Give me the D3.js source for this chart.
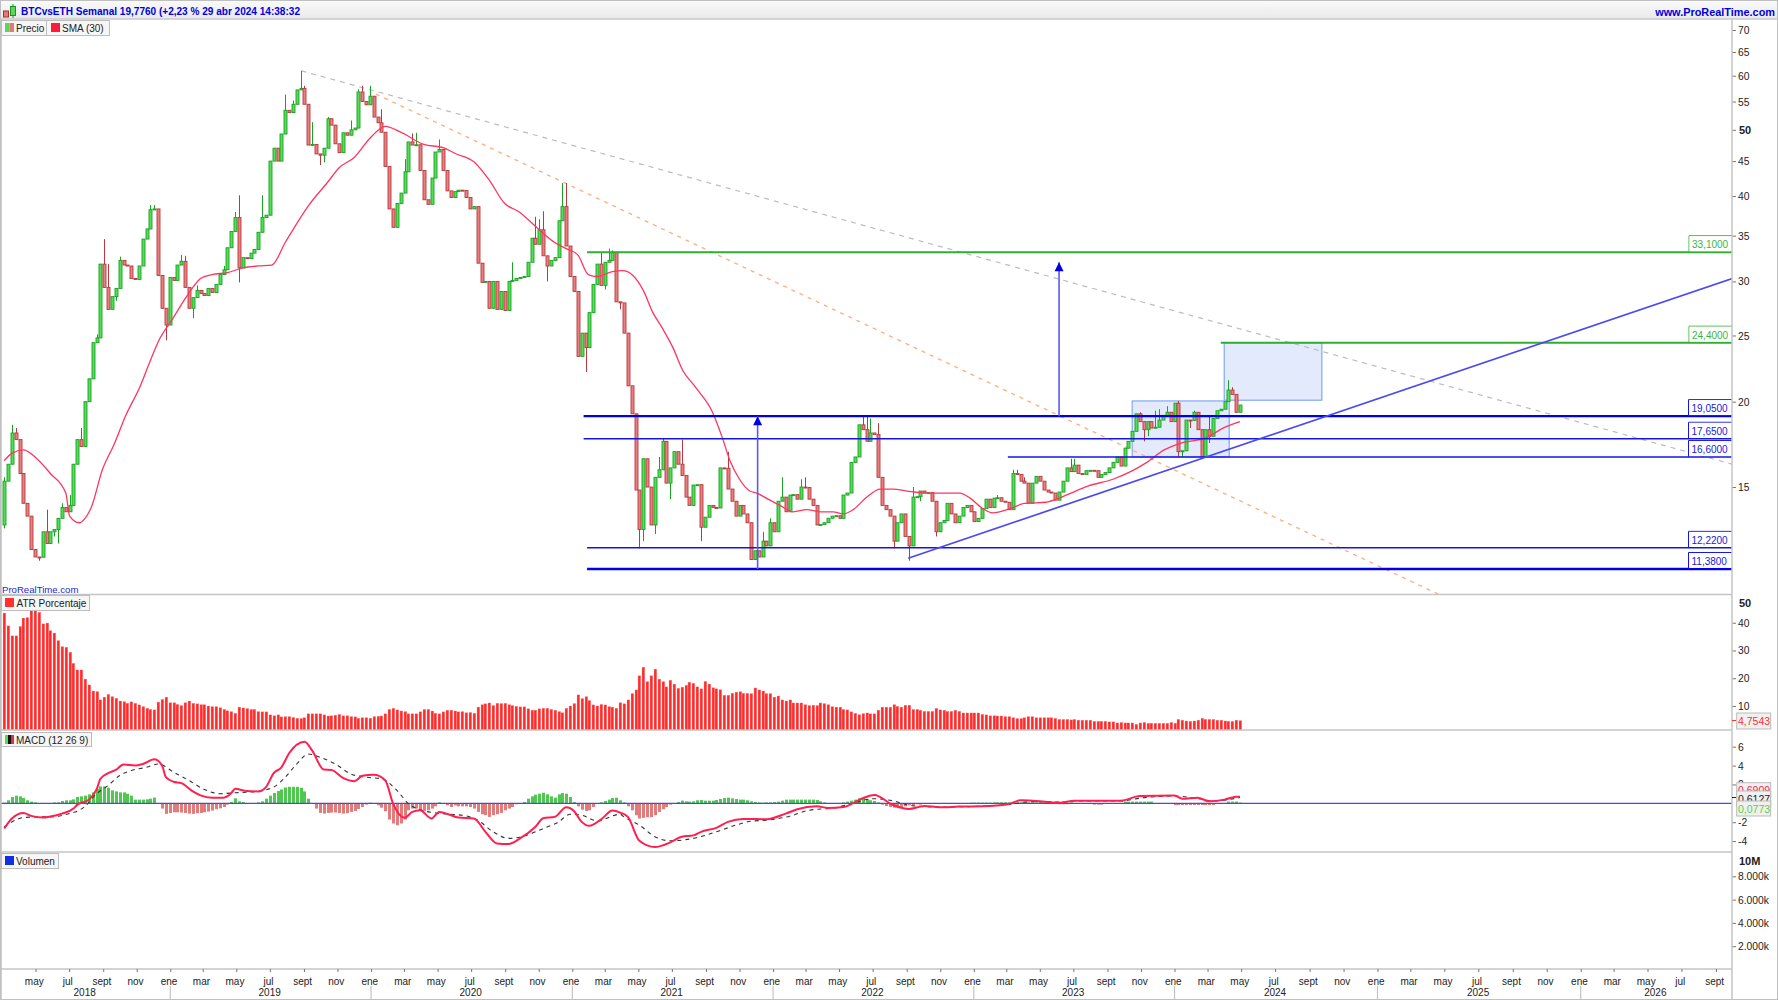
<!DOCTYPE html>
<html><head><meta charset="utf-8">
<style>
html,body{margin:0;padding:0;background:#fff;overflow:hidden}
svg{display:block}
text{font-family:"Liberation Sans",Arial,sans-serif;font-size:10px;fill:#222}
.ax path{stroke:#c0c0c0;stroke-width:1.5}
.ax line{stroke:#777}
</style>
<script src="https://cdn.jsdelivr.net/npm/d3@7/dist/d3.min.js"></script>
</head><body><svg id="c" width="1778" height="1000"></svg>
<script>
// ---- DATA ----
const titleText = "BTCvsETH Semanal 19,7760 (+2,23 % 29 abr 2024 14:38:32";
const firstOpen = 13.2;
const closes = [
15.3,16.2,18.0,17.6,15.7,14.2,13.6,12.15,11.85,11.84,
12.9,12.4,12.9,13.0,13.5,14.0,13.8,14.1,16.2,17.6,
17.2,20.0,21.6,24.4,24.8,31.8,29.4,27.3,28.5,29.3,
32.2,31.7,31.6,30.3,30.2,31.6,34.6,35.8,38.2,38.3,
30.6,27.4,25.9,30.4,30.1,31.7,32.1,29.4,27.4,28.4,
29.1,28.8,28.6,29.3,28.9,29.7,30.7,31.2,33.6,35.5,
37.2,31.4,32.5,32.4,33.0,33.4,35.4,37.2,37.5,45.0,
47.0,45.0,49.3,53.4,53.0,54.5,57.2,57.5,54.5,47.5,
47.6,46.1,45.9,47.0,51.9,50.8,47.7,46.3,49.5,49.1,
50.0,50.3,56.8,55.0,54.4,56.0,52.2,51.2,49.6,44.2,
38.3,36.0,39.0,40.4,43.4,48.0,47.5,47.55,43.6,39.5,
38.9,42.5,46.4,46.8,43.6,40.7,39.8,40.6,40.8,40.75,
39.8,38.3,38.6,31.9,29.9,30.0,27.4,30.0,27.3,29.0,
27.2,30.0,30.1,30.3,30.4,30.5,32.0,34.7,34.0,35.7,
32.7,31.6,32.2,32.5,36.8,38.6,33.8,30.5,29.0,23.3,
25.2,24.0,27.0,29.7,31.8,29.6,32.0,32.2,33.1,28.0,
27.9,25.2,21.1,19.2,14.85,13.0,16.5,15.0,13.2,15.5,
15.9,17.5,15.2,16.0,16.9,16.2,15.6,14.5,14.1,15.1,
15.12,13.1,13.55,14.1,14.0,13.98,16.0,15.98,14.9,14.3,
13.6,14.1,13.7,13.3,11.75,12.1,11.85,12.5,12.3,13.3,
12.9,14.3,14.5,13.8,14.6,14.62,14.4,15.0,14.98,14.4,
14.1,13.2,13.22,13.3,13.5,13.6,13.62,13.5,14.6,14.7,
16.3,16.6,18.5,18.2,17.5,18.0,17.9,15.5,14.1,13.9,
13.6,12.5,13.3,13.7,12.7,12.3,14.5,14.52,14.8,14.7,
14.72,14.3,12.9,13.3,13.4,14.2,13.7,13.3,13.6,14.0,
14.1,13.8,13.35,13.5,13.95,14.4,14.0,14.45,14.47,14.3,
14.25,13.9,15.7,15.65,15.3,15.2,14.2,15.2,15.55,15.3,
14.85,14.75,14.7,14.35,14.75,15.3,16.0,15.8,16.15,15.7,
15.65,15.85,15.87,15.85,15.5,15.65,15.75,16.0,16.3,16.6,
16.1,17.1,17.5,18.1,19.2,18.7,18.2,18.7,18.3,18.35,
18.8,19.1,19.3,18.7,19.9,16.9,16.95,18.8,18.78,19.3,
18.2,16.6,18.2,17.8,18.9,19.4,19.5,20.0,20.8,20.5,
19.3,19.776];
const highWicks = [[0,15.5],[2,18.5],[3,18.3],[11,13.9],[15,14.2],[17,14.6],[20,18.3],[24,25.1],[26,34.6],[27,31.8],[30,32.6],[38,38.8],[39,38.8],[46,32.8],[47,32.7],[50,29.6],[57,31.6],[60,37.9],[61,40.1],[67,40.1],[73,56.3],[75,55.2],[77,61],[78,58],[80,51.3],[84,52.2],[90,51.6],[92,57.3],[93,58],[95,58],[97,52],[98,53.6],[104,45.3],[106,49.4],[107,49.5],[113,48.4],[132,32],[138,37.3],[139,37],[140,38],[145,41.8],[146,41.8],[155,33],[157,33.5],[158,33.3],[162,21.8],[170,16.6],[171,17.7],[175,16.9],[176,17.6],[188,16.9],[197,12.9],[199,13.5],[202,15.5],[207,15.4],[208,15.5],[223,19.05],[224,19.05],[225,18.9],[227,18.6],[236,15],[258,14.6],[262,15.9],[263,15.9],[265,15.5],[277,16.5],[278,16.5],[295,19.3],[299,19.4],[300,19.5],[302,19.7],[305,20.05],[309,19.4],[313,19.1],[318,21.5],[319,21]];
const lowWicks = [[0,13.05],[9,11.7],[13,12.7],[14,12.4],[29,28.1],[42,24.6],[49,26.5],[61,29.9],[82,44.4],[83,44.8],[141,30],[151,22.1],[152,26.6],[156,29.2],[160,27.3],[165,12.2],[166,12.5],[169,12.8],[173,14.4],[181,12.5],[199,12.8],[204,14.0],[231,12.2],[235,11.7],[238,14.3],[242,12.7],[296,17.5],[297,17.8],[305,16.6],[306,16.6],[308,18.3],[313,17.4]];
const smaWeeks = [0,2,5,8,12,16,17,19.5,21,22.6,25.5,28.5,31.6,35.2,38,40.2,43.5,47,49,51,54,58,62,66,69.5,73,79,84,87,91,95,99,103,109,114,117,122,126,130,133.5,139,143,146,149,151.7,154,158,160.7,163.3,166,168.5,171,173.7,176.3,179,180.7,183.8,186.7,188.5,191,193.7,195.5,198.4,201.5,204.9,208.5,211.9,215.3,217.9,220.5,224.1,227.5,230.9,234.5,239.7,248.3,250.9,254.2,256.8,261.3,265.1,270.6,274,277.1,281.5,288,296.8,301.3,305.7,312.2,316.6,321];
const smaValues = [16.4,16.8,17.0,16.6,15.7,14.7,13.6,13.3,13.5,14.0,15.9,17.3,19.1,21,23,24.6,26.3,28.3,29.4,30.3,30.7,30.9,31.4,31.6,31.7,34.2,38.7,41.9,44,45.6,48.6,50.6,49.6,47.6,47.1,46.2,44.9,42.2,39,38,35.7,34.2,33.5,32.8,30.7,30.5,31,31.1,30.6,29.1,27,25.6,24,22.2,21.2,20.6,19.4,17.6,16.4,15.4,14.8,14.7,14.4,14.1,13.8,13.9,13.8,13.8,13.7,13.9,14.5,14.9,14.9,14.8,14.7,14.7,14.45,13.95,13.75,13.95,14.2,14.25,14.45,14.7,15.05,15.4,16.3,17,17.4,17.7,18.3,18.7];
const atrValues = [
43.5,38.9,35.3,35.3,38.7,41.7,41.9,44.3,44.3,43.8,39.6,39.9,37.2,36.3,33.6,31.4,31.2,29.4,25.4,23.0,
23.0,19.7,17.6,15.4,15.2,12.2,13.2,14.2,13.4,12.8,11.8,11.6,11.0,11.5,11.0,10.4,9.8,9.2,8.8,8.6,
11.4,12.4,13.2,11.2,11.2,10.6,10.2,11.2,11.8,11.0,10.8,10.5,10.5,10.0,9.8,9.8,9.4,8.8,8.3,8.0,
7.4,9.6,9.3,9.1,8.8,8.8,8.0,7.9,7.9,6.8,6.5,6.8,6.1,6.2,6.2,5.9,5.6,5.5,5.8,7.2,
7.2,7.2,7.2,6.8,6.4,6.5,6.7,7.0,6.5,6.5,6.2,6.1,5.6,5.8,5.8,5.6,6.2,6.3,6.4,7.2,
8.8,9.2,8.6,8.2,8.0,7.2,7.2,7.2,7.9,8.8,8.8,8.2,7.4,7.2,7.9,8.5,8.5,8.2,7.9,8.0,
7.6,7.7,7.4,9.6,10.5,10.8,11.1,10.2,11.0,10.9,11.0,10.5,10.2,9.9,9.7,9.7,9.0,8.5,8.5,9.0,
9.2,9.2,8.8,8.5,8.0,7.6,9.2,10.0,10.9,14.0,12.7,13.4,12.0,10.4,10.0,10.6,10.4,
9.8,9.6,9.2,11.2,10.8,12.2,14.5,15.8,20.9,24.0,
18.8,20.9,23.3,19.7,18.8,16.9,19.3,17.9,16.4,16.8,
17.5,18.6,18.2,16.9,16.2,18.9,17.9,16.6,16.2,15.9,
13.9,13.9,14.6,15.0,15.2,14.6,14.6,14.5,16.5,15.8,
15.4,14.5,14.5,13.2,13.6,12.2,11.8,12.2,11.1,11.1,
11.1,10.5,10.2,10.3,10.2,11.1,10.9,10.5,9.8,9.6,
9.6,8.8,8.6,7.9,7.4,6.9,7.3,7.5,7.2,7.2,
8.5,9.6,9.6,9.6,10.5,9.9,9.6,10.3,10.3,8.8,
8.8,8.5,8.1,8.1,8.1,9.2,8.6,8.5,8.1,8.1,
8.5,8.1,7.5,7.5,7.5,7.5,7.5,7.0,6.8,6.5,
6.5,6.4,6.4,6.2,6.2,5.8,5.5,5.5,5.8,6.2,
6.2,5.8,5.8,5.8,5.8,5.8,5.6,5.2,5.2,5.2,
5.0,5.2,4.9,4.9,4.9,4.9,4.5,4.5,4.5,4.5,
4.3,4.3,3.9,4.1,3.9,3.9,3.9,3.4,3.9,4.1,
3.8,3.8,3.8,3.8,3.8,3.8,4.1,3.8,5.2,4.9,
4.6,4.5,4.6,4.9,5.6,5.2,5.2,5.2,4.9,4.9,
4.6,4.5,4.5,4.9,4.7543];
const macdWeeks = [0,2,5,7,10,12,15,18,19,22,24,25,27,29,31,34,36,39,41,42,44,46,49,51,54,57,59,60,63,66,68,70,72,74,78,80,83,85,88,91,93,96,99,101,104,106,108,111,113,118,122,125,128,131,134,138,140,143,146,148,150,152,155,158,160,162,165,169,173,176,179,181,185,188,192,198,203,206,211,214,218,223,226,231,235,239,243,248,254,261,264,268,274,278,290,295,304,306,310,313,317,320,321];
const macdValues = [-2.67,-1.6,-1.02,-1.33,-1.51,-1.4,-1.09,-.56,-.14,.38,1.47,2.6,3.19,3.54,4.1,4.0,4.17,4.67,4,2.77,2.28,2.14,1.26,.84,.6,.6,1.09,1.54,1.3,1.26,1.72,3.19,3.82,5.3,6.53,5.58,3.58,3.54,2.7,2.35,2.91,3.02,2.42,-.04,-1.54,-.91,-.74,-1.61,-.91,-1.51,-1.61,-3.02,-4.25,-4.32,-3.72,-2.49,-1.58,-1.44,-.42,-.81,-1.97,-2.39,-1.72,-.77,-.98,-1.44,-3.97,-4.63,-4.14,-3.54,-3.4,-3.02,-2.6,-1.97,-1.65,-1.69,-1.09,-.63,-.32,-.49,-.39,.53,.88,-.21,-.6,-.28,-.42,-.35,-.32,-.07,.32,.25,.07,.28,.28,.77,.84,.49,.6,.21,.39,.7,.6909];
const signalWeeks = [0,2,5,9,12,16,21,24,27,30,33,37,40,44,48,52,56,60,65,70,73,76,79,82,86,90,94,98,102,105,108,112,116,120,123,127,131,135,140,144,147,150,154,160,161,165,169,173,179,185,190,194,198,204,209,216,220,226,231,235,242,253,261,267,275,278,290,296,304,310,314,321];
const signalValues = [-2.49,-1.97,-1.51,-1.44,-1.44,-1.19,-.32,1.02,1.89,2.95,3.47,3.82,4.17,3.3,2.42,1.47,1.02,1.12,1.23,1.72,2.77,4.17,5.23,4.88,4.17,3.12,2.77,2.6,1.37,-.04,-.67,-1.02,-1.16,-1.33,-1.79,-3.02,-3.72,-3.47,-2.67,-1.97,-1.16,-1.26,-1.86,-1.16,-1.44,-2.32,-3.54,-3.97,-3.72,-3.02,-2.32,-1.9,-1.79,-1.37,-.74,-.46,-.04,.49,.25,-.21,-.39,-.32,-.11,.18,.14,.25,.25,.6,.77,.49,.25,.6127];
const histValues = [
.07,.32,.67,.81,.74,.56,.32,.18,.1,0,0,0,0,.1,.1,.25,.32,.32,.42,.67,
.74,.81,.95,1.16,1.54,1.79,1.79,1.65,1.37,1.26,1.16,1.16,1.02,.81,.39,.39,.39,.42,.49,.6,
-.05,-.56,-1.12,-1.02,-.95,-.95,-.98,-1.02,-1.09,-1.12,-1.05,-1.02,-.95,-.88,-.77,-.63,-.53,-.39,-.14,.14,
.53,.21,.14,0,0,0,.1,.21,.49,.81,1.09,1.3,1.47,1.68,1.75,1.75,1.75,1.65,1.26,.49,
-.03,-.56,-1.02,-1.09,-1.02,-.98,-.98,-1.02,-1.09,-1.05,-.91,-.81,-.6,-.39,-.14,.07,-.03,-.21,-.46,-.84,
-1.72,-2.14,-2.32,-2.14,-1.72,-.74,-.56,-.56,-.74,-.81,-.74,-.56,-.32,.1,0,-.21,-.39,-.21,-.32,-.32,
-.32,-.39,-.56,-.91,-1.16,-1.26,-1.44,-1.26,-1.16,-1.02,-.74,-.56,-.39,-.1,-.03,.14,.49,.74,.91,1.02,
1.12,.95,.74,.6,.95,1.09,1.02,.67,.14,-.32,-.67,-.81,-.74,-.39,-.03,.1,.25,.39,.56,.6,
.32,.1,-.32,-.74,-1.26,-1.61,-1.54,-1.47,-1.47,-1.26,-.91,-.63,-.39,-.14,.03,.14,.28,.21,.18,.21,
.32,.35,.28,.28,.28,.35,.46,.56,.6,.53,.46,.39,.39,.32,.21,.14,.1,.07,.1,.1,
.14,.18,.28,.39,.39,.39,.39,.39,.39,.39,.39,.35,.21,.1,.03,0,0,0,.1,.18,
.28,.39,.53,.56,.42,.32,.25,.1,-.14,-.28,-.39,-.46,-.42,-.39,-.32,-.21,-.18,-.1,-.14,-.07,
-.07,-.07,-.07,-.07,-.07,-.07,-.07,-.07,-.07,-.07,-.07,.07,.07,.07,.07,.07,.07,.1,.1,.1,
.1,.1,.1,-.03,.1,.1,.1,.1,.1,.1,.1,0,0,0,-.1,-.1,-.1,.1,0,0,
0,0,0,-.14,-.14,-.14,0,0,0,0,0,.18,.18,.18,.18,.18,.18,.18,.18,0,
0,0,0,0,-.18,-.18,-.18,-.18,-.18,-.18,-.18,-.18,-.18,-.18,-.18,0,0,0,.18,.18,
.18,.0773];
const yearLabels = [2018,2019,2020,2021,2022,2023,2024,2025,2026];
const monthNames = {0:"ene",2:"mar",4:"may",6:"jul",8:"sept",10:"nov"};
const priceTicks = [15,20,25,30,35,40,45,50,55,60,65,70];
const atrTicks = [10,20,30,40,50];
const macdTicks = [-4,-2,2,4,6];
const volTicks = [2000,4000,6000,8000,10000];
// drawn objects: level lines [value, first week, colour, width]
const levels = [[33.1,151.4,"#2fae2f",2],[24.4,316,"#2fae2f",2],[19.05,150.5,"#0000e8",2.4],[17.65,150.5,"#1414e8",1.5],[16.6,260.7,"#1414e8",1.5],[12.22,151.4,"#1414e8",1.5],[11.38,151.4,"#0000e8",2.4]];
const levelLabels = [["33,1000",33.1,"#3cb43c"],["24,4000",24.4,"#3cb43c"],["19,0500",19.05,"#2020e0"],["17,6500",17.65,"#2020e0"],["16,6000",16.6,"#2020e0"],["12,2200",12.22,"#2020e0"],["11,3800",11.38,"#2020e0"]];
const arrows = [[195.7,11.38,19.05],[274,19.05,32]];
const boxes = [[293,318.2,20.05,16.6],[316.9,342,24.4,20.1]];
const trendLine = [[234.8,11.8],[447.3,30.3]];
const grayDash = [[77.2,61],[447.3,16.2]];
const orangeDash = [[96.6,56.4],[371.8,10.46]];

// ---- LAYOUT ----
const W=1778,H=1000,L=1,R=1732;
const svg=d3.select("#c");
const WEEK=7*864e5, d0=Date.UTC(2018,2,5), dEnd=d0+321*WEEK, dFuture=Date.UTC(2026,8,1);
const tx=d3.scaleUtc().domain([new Date(d0),new Date(dEnd),new Date(dFuture)]).range([4.2,1240,1716]);
const xw=w=>tx(new Date(d0+w*WEEK));
const yP=d3.scaleLog().domain([10.46,72.4]).range([594,20]);
const yA=d3.scaleLinear().domain([0,50]).range([733.7,595]);
const yM=d3.scaleLinear().domain([-5.16,7.07]).range([852,736.6]);
const yV=d3.scaleLinear().domain([0,10000]).range([969.5,853]);

const defs=svg.append("defs");
const grad=defs.append("linearGradient").attr("id","tb").attr("x2",0).attr("y2",1);
grad.append("stop").attr("offset",0).attr("stop-color","#fbfbfb");
grad.append("stop").attr("offset",1).attr("stop-color","#e9e9e9");
defs.append("clipPath").attr("id","cp").append("rect").attr("x",L).attr("y",20).attr("width",R-L).attr("height",574);

svg.append("rect").attr("width",W).attr("height",H).attr("fill","#fff");
svg.append("rect").attr("x",0).attr("y",0).attr("width",W).attr("height",19).attr("fill","url(#tb)");

// drawings under candles
const gP=svg.append("g").attr("clip-path","url(#cp)");
boxes.forEach(b=>{gP.append("rect").attr("x",xw(b[0])).attr("width",xw(b[1])-xw(b[0])).attr("y",yP(b[2])).attr("height",yP(b[3])-yP(b[2])).attr("fill","#dbe5fa").attr("fill-opacity",.8).attr("stroke","#80a8f4").attr("stroke-width",1.2);});
const seg=(s,c,w,dash)=>gP.append("line").attr("x1",xw(s[0][0])).attr("y1",yP(s[0][1])).attr("x2",xw(s[1][0])).attr("y2",yP(s[1][1])).attr("stroke",c).attr("stroke-width",w).attr("stroke-dasharray",dash||null);
seg(grayDash,"#bcbcbc",1.2,"5 5");
seg(orangeDash,"#ffb080",1.4,"4 5");

// candles
const candles=closes.map((c,i)=>({i,c,o:i?closes[i-1]:firstOpen,h:Math.max(c,i?closes[i-1]:firstOpen),l:Math.min(c,i?closes[i-1]:firstOpen)}));
highWicks.forEach(([i,v])=>{candles[i].h=Math.max(candles[i].h,v)});
lowWicks.forEach(([i,v])=>{candles[i].l=Math.min(candles[i].l,v)});
const gC=gP.append("g");
const up=d=>d.c>=d.o;
const cx=d=>Math.round(xw(d.i))+.5;
gC.selectAll("line").data(candles).join("line")
 .attr("x1",cx).attr("x2",cx).attr("y1",d=>yP(d.h)).attr("y2",d=>yP(d.l))
 .attr("stroke",d=>up(d)?"#18a324":"#b83a3e").attr("stroke-width",1);
gC.selectAll("rect").data(candles).join("rect")
 .attr("x",d=>cx(d)-1.5).attr("width",3)
 .attr("y",d=>yP(Math.max(d.o,d.c))).attr("height",d=>Math.max(1,yP(Math.min(d.o,d.c))-yP(Math.max(d.o,d.c))))
 .attr("fill",d=>up(d)?"#55dd55":"#e88080").attr("stroke",d=>up(d)?"#18a324":"#b83a3e").attr("stroke-width",.9);

// SMA
gP.append("path").datum(smaWeeks.map((w,i)=>[w,smaValues[i]]))
 .attr("d",d3.line().x(d=>xw(d[0])).y(d=>yP(d[1])).curve(d3.curveMonotoneX))
 .attr("fill","none").attr("stroke","#ff3560").attr("stroke-width",1.3);

// levels, trend, arrows
levels.forEach(l=>{gP.append("line").attr("x1",xw(l[1])).attr("x2",R).attr("y1",yP(l[0])).attr("y2",yP(l[0])).attr("stroke",l[2]).attr("stroke-width",l[3]);});
seg(trendLine,"#4a4af0",1.7);
arrows.forEach(a=>{
 const x=xw(a[0]),y0=yP(a[1]),y1=yP(a[2]);
 gP.append("line").attr("x1",x).attr("x2",x).attr("y1",y0).attr("y2",y1).attr("stroke","#5a5af5").attr("stroke-width",1.6);
 gP.append("path").attr("d",d3.line()([[x,y1],[x-4.5,y1+9],[x+4.5,y1+9]])).attr("fill","#0000e8");
});

// level labels
levelLabels.forEach(l=>{
 const y=yP(l[1]),isG=l[2]==="#3cb43c",x0=isG?1689:1688.5;
 svg.append("path").attr("d",`M${R},${y-16.5}H${x0}V${y}`).attr("fill","none").attr("stroke",isG?"#3cb43c":"#1414e8").attr("stroke-width",1);
 svg.append("rect").attr("x",x0+.5).attr("y",y-16).attr("width",R-x0-1).attr("height",15).attr("fill","#fff").attr("fill-opacity",.85);
 svg.append("text").attr("x",x0+3).attr("y",y-4).attr("fill",l[2]).style("fill",l[2]).text(l[0]);
});

// ATR bars
svg.append("g").selectAll("rect").data(atrValues).join("rect")
 .attr("x",(d,i)=>Math.round(xw(i))-1).attr("width",2.8)
 .attr("y",d=>yA(d)).attr("height",d=>730-yA(d)).attr("fill","#ff2a2a").attr("stroke","#ffb0b0").attr("stroke-width",.3);

// MACD
const gM=svg.append("g");
gM.selectAll("rect").data(histValues).join("rect")
 .attr("x",(d,i)=>Math.round(xw(i))-1).attr("width",3)
 .attr("y",d=>yM(Math.max(d,0))).attr("height",d=>Math.abs(yM(d)-yM(0)))
 .attr("fill",d=>d>=0?"#50c850":"#e07c7c");
gM.append("line").attr("x1",L).attr("x2",R).attr("y1",yM(0)).attr("y2",yM(0)).attr("stroke","#4a4ad8").attr("stroke-width",1.2);
const ln=d3.line().x(d=>xw(d[0])).y(d=>yM(d[1])).curve(d3.curveMonotoneX);
gM.append("path").datum(signalWeeks.map((w,i)=>[w,signalValues[i]])).attr("d",ln).attr("fill","none").attr("stroke","#333").attr("stroke-width",1.1).attr("stroke-dasharray","4 4");
gM.append("path").datum(macdWeeks.map((w,i)=>[w,macdValues[i]])).attr("d",ln).attr("fill","none").attr("stroke","#ff2050").attr("stroke-width",2);

// axes
const axisR=(scale,vals,fmt,bold,topTick)=>{
 const g=svg.append("g").attr("class","ax").attr("transform",`translate(${R},0)`)
  .call(d3.axisRight(scale).tickValues(vals).tickFormat(fmt).tickSize(4).tickPadding(2));
 g.select(".domain").remove();
 g.selectAll("text").style("font-size",d=>d===bold?"11px":"10.3px").style("font-family",'"Liberation Sans",Arial,sans-serif').style("fill","#222").style("font-weight",d=>d===bold?"bold":"normal").attr("dy","0.34em").attr("dx",d=>d===bold?1:0);
 if(topTick!==undefined){
  const t=g.selectAll(".tick").filter(d=>d===topTick);
  t.select("line").remove();
  t.select("text").attr("transform","translate(0,8)");
 }
};
axisR(yP,priceTicks,d=>d,50);
axisR(yA,atrTicks,d=>d,50,50);
axisR(yM,macdTicks,d=>d,null);
axisR(yV,volTicks,d=>d===10000?"10M":(d/1000)+".000k",10000,10000);

// separators and borders
const sep=y=>svg.append("line").attr("x1",0).attr("x2",R).attr("y1",y).attr("y2",y).attr("stroke","#c4c4c4").attr("stroke-width",1.5);
[594.5,730,852,969].forEach(sep);
svg.append("line").attr("x1",R).attr("x2",R).attr("y1",19).attr("y2",999).attr("stroke","#c4c4c4").attr("stroke-width",1.5);
svg.append("rect").attr("x",.5).attr("y",.5).attr("width",W-1).attr("height",H-1).attr("fill","none").attr("stroke","#c0c0c0");
svg.append("line").attr("x1",0).attr("x2",W).attr("y1",19).attr("y2",19).attr("stroke","#c8c8c8").attr("stroke-width",1.5);
svg.append("line").attr("x1",1).attr("x2",1).attr("y1",19).attr("y2",999).attr("stroke","#c0c0c0").attr("stroke-width",1.5);

// time axis
const monthDates=[];
for(let y=2018;y<=2026;y++)for(const m of [0,2,4,6,8,10]){
 const d=new Date(Date.UTC(y,m,1));
 if(d>=new Date(Date.UTC(2018,4,1))&&tx(d)<R-3)monthDates.push(d);
}
const gx=svg.append("g").attr("class","ax").attr("transform","translate(0,969)")
 .call(d3.axisBottom(tx).tickValues(monthDates).tickFormat(d=>monthNames[d.getUTCMonth()]).tickSize(3).tickPadding(6));
gx.select(".domain").remove();
gx.selectAll("text").attr("dx",-1.8).style("font-size","10px").style("font-family",'"Liberation Sans",Arial,sans-serif').style("fill","#222");
yearLabels.forEach(y=>{
 const a=Math.max(L,tx(new Date(Date.UTC(y,0,1)))),b=Math.min(R,tx(new Date(Date.UTC(y+1,0,1))));
 if(y>2018)svg.append("line").attr("x1",a).attr("x2",a).attr("y1",986).attr("y2",999).attr("stroke","#c4c4c4").attr("stroke-width",1.2);
 svg.append("text").attr("x",(a+b)/2-1).attr("y",996).attr("text-anchor","middle").text(y);
});

// title
svg.append("text").attr("x",21).attr("y",15).style("font-weight","bold").style("font-size","10.05px").style("fill","#0000dc").text(titleText);
svg.append("text").attr("x",1775).attr("y",16).attr("text-anchor","end").style("font-weight","bold").style("font-size","10.9px").style("fill","#0000dc").text("www.ProRealTime.com");
svg.append("rect").attr("x",3.5).attr("y",11).attr("width",5).attr("height",6).attr("fill","#e67878").attr("stroke","#b22a2e");
svg.append("line").attr("x1",13).attr("x2",13).attr("y1",4).attr("y2",18).attr("stroke","#129a1e");
svg.append("rect").attr("x",10.5).attr("y",6.5).attr("width",5).attr("height",9).attr("fill","#5ad65a").attr("stroke","#129a1e");

// legends
const legBox=(x,y,w,h,tx0,label,fn)=>{
 svg.append("rect").attr("x",x+.5).attr("y",y+.5).attr("width",w).attr("height",h).attr("fill","#f6f6f6").attr("stroke","#bdbdbd");
 fn(); svg.append("text").attr("x",tx0).attr("y",y+11.5).text(label);
};
legBox(1,20,45,15,16,"Precio",()=>{
 svg.append("rect").attr("x",5).attr("y",23).attr("width",4.5).attr("height",9).attr("fill","#5ad65a");
 svg.append("rect").attr("x",9.5).attr("y",23).attr("width",4.5).attr("height",9).attr("fill","#e67878");
});
legBox(46,20,63,15,62,"SMA (30)",()=>{svg.append("rect").attr("x",51).attr("y",23).attr("width",9).attr("height",9).attr("fill","#ff1a3c");});
legBox(1,595,88,15,16.5,"ATR Porcentaje",()=>{svg.append("rect").attr("x",5).attr("y",598).attr("width",9).attr("height",9).attr("fill","#ff3030");});
legBox(1,732,90,14,16,"MACD (12 26 9)",()=>{
 svg.append("rect").attr("x",5).attr("y",735).attr("width",3).attr("height",9).attr("fill","#5ad65a");
 svg.append("rect").attr("x",8).attr("y",735).attr("width",3).attr("height",9).attr("fill","#111");
 svg.append("rect").attr("x",11).attr("y",735).attr("width",3).attr("height",9).attr("fill","#e0304a");
});
legBox(1,853,57,15,16,"Volumen",()=>{svg.append("rect").attr("x",5).attr("y",856).attr("width",9).attr("height",9).attr("fill","#1030e0");});
svg.append("text").attr("x",2).attr("y",593).style("font-size","9.6px").style("fill","#1a2ad0").text("ProRealTime.com");

// last value tags
const tag=(y0,h,label,col)=>{
 svg.append("rect").attr("x",1736.7).attr("y",y0).attr("width",34).attr("height",h).attr("fill","#f0f0f0").attr("stroke","#bbb");
 svg.append("text").attr("x",1738).attr("y",y0+11.5).style("font-size","10.5px").style("fill",col).text(label);
};
tag(713,16,"4,7543","#ff3030");
svg.append("line").attr("x1",R).attr("x2",R+4).attr("y1",yA(4.7543)).attr("y2",yA(4.7543)).attr("stroke","#ff3030");
tag(782.7,15,"0,6909","#ff2050");
tag(791,15,"0,6127","#222");
tag(801,15,"0,0773","#50d050");
svg.append("line").attr("x1",R).attr("x2",R+4).attr("y1",yM(.6127)).attr("y2",yM(.6127)).attr("stroke","#222");
</script></body></html>
